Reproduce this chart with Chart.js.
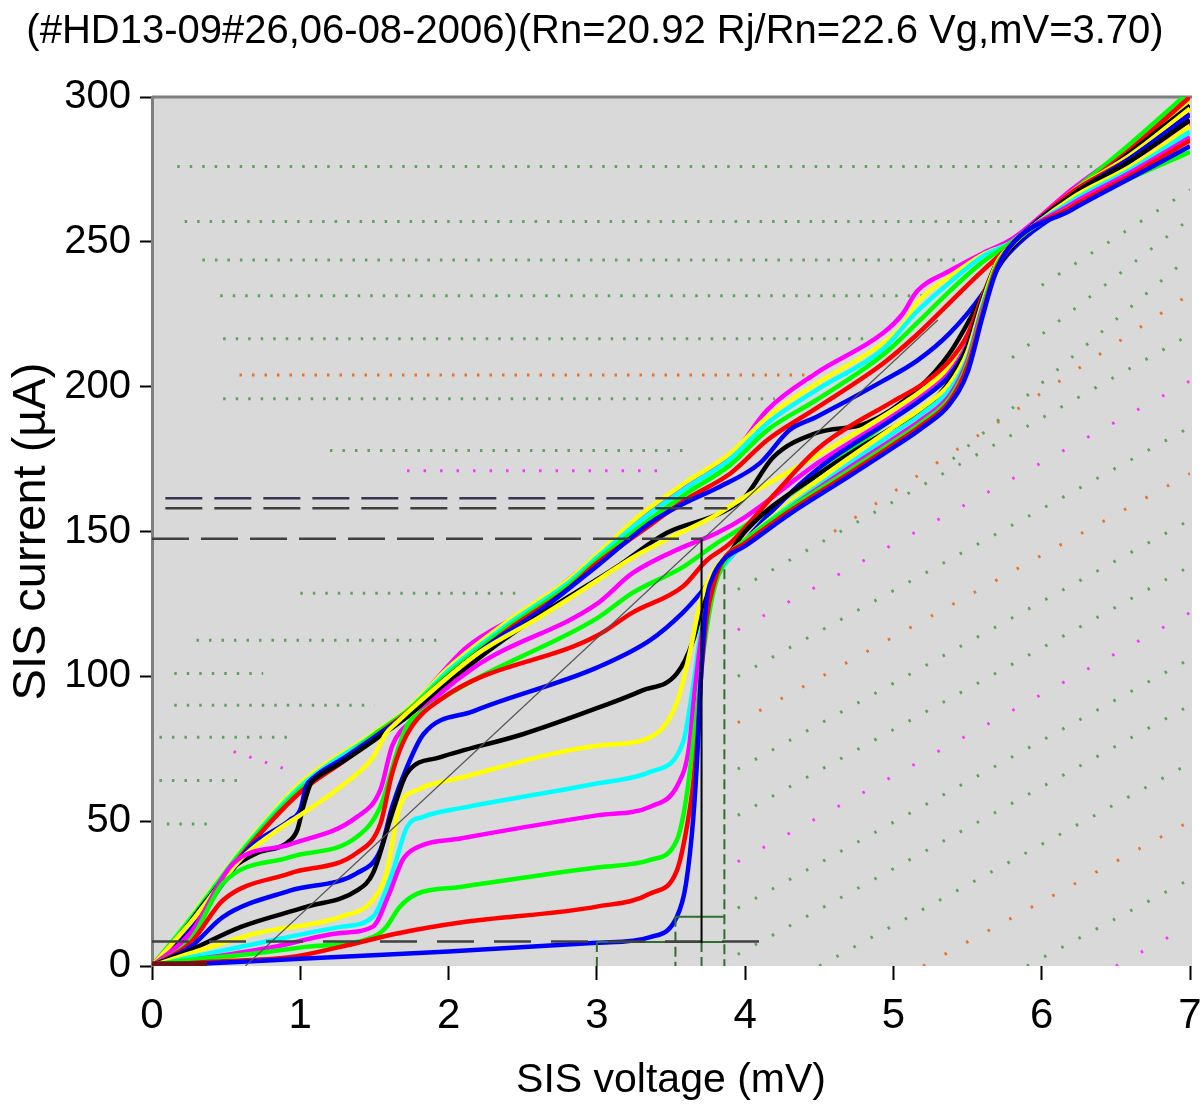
<!DOCTYPE html>
<html>
<head>
<meta charset="utf-8">
<script src="https://cdn.jsdelivr.net/npm/chart.js@4.4.1/dist/chart.umd.min.js"></script>
<style>
  html, body { margin: 0; padding: 0; background: #fff; }
  #wrap { width: 1204px; height: 1106px; }
</style>
</head>
<body>
<div id="wrap"><canvas id="ivChart" width="1204" height="1106"></canvas></div>
<script>
// axis ticks
const voltageTicks = [0, 1, 2, 3, 4, 5, 6, 7];
const currentTicks = [0, 50, 100, 150, 200, 250, 300];

// pumped I-V curves, [mV, uA], lowest LO power first
const iv01 = [[0,0],[0.5,1.2],[1,2.5],[2,5],[3,8],[3.36,10],[3.54,17],[3.6,28],[3.65,51],[3.68,75],[3.7,98],[3.74,126],[3.78,134],[3.85,140],[4,145],[4.3,156],[4.7,169],[5,179],[5.2,186],[5.38,194],[5.5,205],[5.6,224],[5.68,238],[5.78,248],[6.2,261],[6.6,272],[7,283]];
const iv02 = [[0,0],[0.37,1.4],[0.93,3],[1.27,6.6],[1.67,11.4],[2.08,15],[3,20.5],[3.36,25],[3.54,33],[3.6,46],[3.65,63],[3.68,80],[3.7,98],[3.74,120],[3.79,132],[3.85,140],[4,146],[4.3,157],[4.7,170],[5,180],[5.2,187],[5.38,195],[5.5,207],[5.6,225],[5.68,239],[5.78,248],[6.2,262],[6.6,273],[7,285]];
const iv03 = [[0,0],[0.14,1.4],[0.6,3.8],[1.04,6.6],[1.49,10],[1.58,13.5],[1.67,20.4],[1.79,25],[2.08,27.3],[3,34],[3.36,36.6],[3.54,43.5],[3.6,57],[3.67,86],[3.72,109],[3.79,130],[3.88,141],[4,147],[4.3,158],[4.7,171],[5,181],[5.2,188],[5.38,196],[5.5,208],[5.6,226],[5.68,240],[5.78,248],[6.2,262],[6.6,272],[7,281]];
const iv04 = [[0,0],[0.26,2],[0.82,6.6],[1.27,11.4],[1.49,13.6],[1.6,25],[1.69,36.6],[1.79,41],[2.08,44],[3,52],[3.36,55],[3.55,63],[3.62,75],[3.66,95],[3.7,112],[3.76,129],[3.85,139],[4,146],[4.3,158],[4.7,172],[5,182],[5.2,189],[5.38,197],[5.5,209],[5.6,227],[5.7,241],[5.8,249],[6.2,263],[6.6,274],[7,286]];
const iv05 = [[0,0],[0.26,3],[0.82,9],[1.27,13.5],[1.49,17],[1.62,32],[1.72,48],[1.83,51.5],[2.08,54.5],[3,63],[3.36,67],[3.58,77],[3.65,97],[3.7,115],[3.79,132],[3.9,141],[4.1,151],[4.5,166],[5,184],[5.2,191],[5.38,199],[5.5,210],[5.6,228],[5.7,242],[5.8,249],[6.2,264],[6.6,275],[7,288]];
const iv06 = [[0,0],[0.26,4.4],[0.71,11.4],[1.27,17],[1.49,22.8],[1.58,32],[1.67,55],[1.79,60.8],[2.08,65],[3,76],[3.36,79],[3.54,91],[3.63,109],[3.7,126],[3.81,138],[4,147],[4.5,168],[5,186],[5.2,193],[5.38,201],[5.5,212],[5.6,229],[5.7,243],[5.8,249],[6.2,265],[6.6,276],[7,290]];
const iv07 = [[0,0],[0.26,5.5],[0.6,13.5],[1.04,20.4],[1.38,26],[1.49,32],[1.62,52.8],[1.72,66.6],[1.94,72],[2.5,80],[3,89],[3.3,95],[3.54,101],[3.65,112.5],[3.7,122],[3.76,133],[3.85,139],[4,150],[4.5,170],[5,186],[5.2,192],[5.38,202],[5.5,214],[5.6,230],[5.7,243],[5.8,249],[6.2,266],[6.6,278],[7,292]];
const iv08 = [[0,0],[0.26,6.6],[0.48,17],[0.93,26],[1.38,32],[1.54,40],[1.62,55],[1.72,68.7],[1.83,80],[2.17,88],[3,103],[3.36,112.5],[3.58,122],[3.7,128.8],[3.78,134],[3.9,141],[4.2,158],[4.5,172],[5,189],[5.2,196],[5.38,204],[5.5,214],[5.6,229],[5.7,242],[5.8,249],[6.2,266],[6.6,279],[7,294]];
const iv09 = [[0,0],[0.26,8],[0.48,22.8],[0.93,32],[1.38,39],[1.54,49],[1.62,66.6],[1.72,80],[1.94,91.8],[3,114],[3.24,122],[3.58,131],[3.74,140],[3.9,146],[4.2,163],[4.5,179],[5,195],[5.2,201],[5.38,209],[5.5,218],[5.6,231],[5.7,243],[5.8,249],[6.2,267],[6.6,279],[7,294]];
const iv10 = [[0,0],[0.26,9],[0.48,28.6],[0.93,37.6],[1.38,44.5],[1.54,55],[1.65,73.5],[1.72,83],[1.83,88],[2.17,98.7],[3,120],[3.24,128.8],[3.58,137.7],[3.81,146],[4,152],[4.5,170],[5,189],[5.2,196],[5.38,204],[5.5,214],[5.6,229],[5.7,242],[5.8,249],[6.2,265],[6.6,276],[7,286]];
const iv11 = [[0,0],[0.26,11.4],[0.55,35.5],[0.93,42],[1.38,51.4],[1.54,60.8],[1.62,76],[1.76,85],[2.17,103],[3,125],[3.24,135.6],[3.58,144.6],[3.81,149.5],[4,155],[4.5,174],[5,190],[5.2,197],[5.38,205],[5.5,215],[5.6,230],[5.7,243],[5.8,249],[6.2,266],[6.6,278],[7,291]];
const iv12 = [[0,0],[0.26,15],[0.6,37],[0.82,46],[1.02,52.8],[1.27,61.8],[1.49,72],[1.58,80.4],[1.65,84],[1.8,91],[2.2,108],[2.6,120],[3,133],[3.24,141],[3.5,148],[3.78,155],[4,162],[4.48,176],[5,192],[5.2,199],[5.38,207],[5.5,217],[5.6,231],[5.7,243],[5.8,249],[6.2,267],[6.6,280],[7,296]];
const iv13 = [[0,0],[0.1,5],[0.37,22.8],[0.55,34],[0.71,39],[0.91,42.5],[0.98,47],[1.02,55],[1.07,63],[1.11,65],[1.27,70],[1.5,78],[1.72,86],[2,98],[2.3,110],[2.64,122],[3.14,138],[3.47,149.5],[3.85,156.7],[4,162],[4.19,175.7],[4.48,184],[4.82,187.4],[5.16,199],[5.38,211.6],[5.56,227.5],[5.7,241],[5.85,251],[6.2,265],[6.6,281],[7,297]];
const iv14 = [[0,0],[0.26,13.5],[0.5,30],[0.66,41],[0.93,50.4],[1,54],[1.04,62],[1.09,65],[1.3,72],[1.5,79],[1.72,87],[2,100],[2.3,112],[2.6,122],[3,138],[3.36,153],[3.6,160],[3.81,165],[4.1,173.6],[4.3,185],[4.48,189.5],[4.93,202],[5.16,209],[5.38,218.5],[5.6,232],[5.74,243.7],[5.9,252],[6.3,266],[6.7,282],[7,294]];
const iv15 = [[0,0],[0.26,15],[0.6,38],[1,60],[1.3,71],[1.5,79],[1.72,87.5],[2,100],[2.4,116],[2.8,130],[3,139],[3.3,150],[3.6,161],[3.9,170],[4.15,181.6],[4.48,192.6],[4.93,208],[5.16,218],[5.38,229],[5.6,240],[5.8,249],[6.2,266],[6.6,282],[7,300]];
const iv16 = [[0,0],[0.26,16],[0.6,39],[1,61],[1.3,72],[1.5,80],[1.72,88],[2,101],[2.4,117],[2.8,131],[3,140],[3.3,152],[3.6,163],[3.9,173],[4.15,185],[4.48,195.4],[4.93,211],[5.16,222],[5.38,233],[5.6,243],[5.8,250],[6.2,267],[6.6,284],[7,302]];
const iv17 = [[0,0],[0.26,16.5],[0.6,39.5],[1,62],[1.5,80],[1.72,88],[2,102],[2.4,118],[2.8,132],[3,141],[3.3,154],[3.6,165],[3.9,175],[4.15,187.4],[4.48,198.8],[4.93,213],[5.16,226],[5.38,236],[5.6,245],[5.8,250],[6.2,266],[6.6,280],[7,297]];
const iv18 = [[0,0],[0.26,17],[0.6,40],[1,63],[1.5,80.5],[1.72,88.5],[2,103],[2.4,119],[2.8,133],[3,142],[3.3,156],[3.6,167],[3.9,177],[4.15,189.5],[4.48,201],[4.93,215],[5.06,221],[5.16,229],[5.38,238],[5.6,245.5],[5.8,250],[6.2,267],[6.6,282],[7,299]];
const iv19 = [[0,0],[0.26,16.5],[0.6,39.5],[1,62.5],[1.5,80],[1.72,88],[2.12,110],[2.57,124],[2.8,133],[3.02,142.6],[3.24,153],[3.47,162],[3.7,170],[3.92,177],[4.15,192],[4.48,204.7],[4.93,218.5],[5.06,225],[5.16,233],[5.38,240],[5.6,246],[5.8,251],[6.2,268],[6.6,283],[7,300]];
const ivCurves = [iv01, iv02, iv03, iv04, iv05, iv06, iv07, iv08, iv09, iv10, iv11, iv12, iv13, iv14, iv15, iv16, iv17, iv18, iv19];
const ivColours = ['#0000ff', '#ff0000', '#00ff00', '#ff00ff', '#00ffff', '#ffff00', '#000000',
                   '#0000ff', '#ff0000', '#00ff00', '#ff00ff', '#ffff00', '#000000',
                   '#0000ff', '#ff0000', '#00ff00', '#00ffff', '#ffff00', '#ff00ff'];

// IF power traces drawn as dotted rows
const ifGreenRows = [
  [[0.17,276],[6.6,276]], [[0.22,257],[5.85,257]], [[0.34,243.7],[5.45,243.7]],
  [[0.46,231.4],[5.3,231.4]], [[0.48,216.5],[4.85,216.5]], [[0.48,195.8],[4.2,195.8]],
  [[1.2,178],[3.58,178]], [[1.0,128.7],[2.5,128.7]], [[0.3,112.5],[1.95,112.5]],
  [[0.15,101],[0.75,101]], [[0.15,90],[1.5,90]], [[0.05,79],[0.95,79]],
  [[0.05,64],[0.6,64]], [[0.1,49],[0.4,49]]
];
const ifOrangeRows = [[[0.59,204],[4.4,204]]];
const ifMagentaRows = [[[1.72,171],[3.45,171]], [[0.55,74],[0.9,68]]];
const ifGreenSlants = [
  [[3.95,4],[7,90]], [[3.95,20],[7,106]], [[3.95,52],[7,138]], [[3.95,68],[7,154]],
  [[3.95,100],[7,186]], [[3.95,130],[7,218]], [[5.4,175],[7,245]], [[5.8,210],[7,258]],
  [[6.0,235],[7,268]], [[4.5,0],[7,70]], [[5.9,0],[7,30]]
];
const ifOrangeSlants = [[[3.95,84],[7,170]], [[4.6,150],[7,232]], [[5.2,0],[7,50]]];
const ifMagentaSlants = [[[3.95,36],[7,122]], [[3.95,116],[7,202]], [[6.5,0],[7,14]]];

// reference marks
const refDashHigh = [[0.09,161.5],[3.93,161.5]];
const refDashMid = [[0.09,158],[3.88,158]];
const refDashLow = [[0,147.5],[3.706,147.5]];
const refGapLine = [[3.706,147.5],[3.706,8]];
const refBaseDash = [[0,8.5],[4.2,8.5]];
const rnLine = [[0.63,0],[5.3,223]];
const originStub = [[0,0.8],[0.37,0.8]];
const boxTop = [[3.53,17],[3.86,17]];
const boxBase = [[3.0,8.3],[3.86,8.3]];
const boxLeft = [[3.0,8.3],[3.0,0]];
const boxMid = [[3.53,17],[3.53,0]];
const boxGap = [[3.706,8.3],[3.706,0]];
const boxRight = [[3.86,137],[3.86,0]];

const FONT = "'Liberation Sans', Arial, sans-serif";
const pts = arr => arr.map(([x, y]) => ({ x, y }));

const dotted = (rows, colour, gap) => rows.map(r => ({
  data: pts(r), borderColor: colour, borderWidth: 3, borderDash: [2.5, gap], order: 30
}));

const datasets = [
  { data: pts(refDashHigh), borderColor: '#3a3550', borderWidth: 2.5, borderDash: [37, 12], order: 10 },
  { data: pts(refDashMid), borderColor: '#404040', borderWidth: 2.5, borderDash: [37, 12], order: 10 },
  { data: pts(refDashLow), borderColor: '#404040', borderWidth: 2.5, borderDash: [37, 12], order: 10 },
  { data: pts(refGapLine), borderColor: '#000000', borderWidth: 2, order: 10 },
  { data: pts(refBaseDash), borderColor: '#404040', borderWidth: 2.5, borderDash: [37, 20], order: 10 },
  { data: pts(rnLine), borderColor: '#555555', borderWidth: 1.2, order: 10 },
  { data: pts(originStub), borderColor: '#701010', borderWidth: 5, order: 10 },
  { data: pts(boxTop), borderColor: '#2f6f2f', borderWidth: 2, order: 10 },
  { data: pts(boxBase), borderColor: '#2f6f2f', borderWidth: 2, order: 10 },
  { data: pts(boxLeft), borderColor: '#2f6f2f', borderWidth: 2, borderDash: [10, 5], order: 10 },
  { data: pts(boxMid), borderColor: '#2f6f2f', borderWidth: 2, borderDash: [10, 5], order: 10 },
  { data: pts(boxGap), borderColor: '#2f6f2f', borderWidth: 2, borderDash: [10, 5], order: 10 },
  { data: pts(boxRight), borderColor: '#2f6f2f', borderWidth: 2, borderDash: [10, 5], order: 10 },
  ...ivCurves.map((c, i) => ({
    data: pts(c), borderColor: ivColours[i], borderWidth: 4.5,
    cubicInterpolationMode: 'monotone', order: 20
  })),
  ...dotted(ifGreenRows, '#5da35d', 10),
  ...dotted(ifGreenSlants, '#5da35d', 17),
  ...dotted(ifOrangeRows, '#e8742a', 10),
  ...dotted(ifOrangeSlants, '#e8742a', 22),
  ...dotted(ifMagentaRows, '#ff33ff', 14),
  ...dotted(ifMagentaSlants, '#ff33ff', 26)
];

const plotFrame = {
  id: 'plotFrame',
  beforeDraw(chart) {
    const { ctx, chartArea: a } = chart;
    ctx.save();
    ctx.fillStyle = '#d9d9d9';
    ctx.fillRect(a.left, a.top, a.right - a.left + 2, a.bottom - a.top);
    ctx.strokeStyle = '#7f7f7f';
    ctx.lineWidth = 3;
    ctx.beginPath();
    ctx.moveTo(a.left, a.top);
    ctx.lineTo(a.right + 2, a.top);
    ctx.stroke();
    ctx.restore();
  }
};

Chart.defaults.font.family = FONT;
Chart.defaults.color = '#000';

new Chart(document.getElementById('ivChart'), {
  type: 'line',
  data: { datasets },
  plugins: [plotFrame],
  options: {
    responsive: false,
    animation: false,
    clip: 0,
    layout: { padding: { left: 0, right: 14, top: 0, bottom: 0 } },
    elements: { point: { radius: 0 }, line: { fill: false } },
    plugins: {
      legend: { display: false },
      tooltip: { enabled: false },
      title: {
        display: true,
        text: '(#HD13-09#26,06-08-2006)(Rn=20.92 Rj/Rn=22.6 Vg,mV=3.70)',
        color: '#000',
        font: { size: 40, weight: 'normal', lineHeight: 1 },
        padding: { top: 12, bottom: 45 }
      }
    },
    scales: {
      x: {
        type: 'linear',
        min: voltageTicks[0],
        max: voltageTicks[voltageTicks.length - 1],
        ticks: { stepSize: 1, font: { size: 42 }, color: '#000', padding: 11, maxRotation: 0 },
        grid: { drawOnChartArea: false, drawTicks: true, tickLength: 14, tickColor: '#000', tickWidth: 2 },
        border: { display: false },
        title: { display: true, text: 'SIS voltage (mV)', color: '#000', font: { size: 41, lineHeight: 1 }, padding: { top: 0, bottom: 5 } },
        afterFit: s => { s.height = 140; s.paddingLeft = 0; s.paddingRight = 0; }
      },
      y: {
        type: 'linear',
        min: currentTicks[0],
        max: currentTicks[currentTicks.length - 1],
        ticks: { stepSize: currentTicks[1] - currentTicks[0], font: { size: 40 }, color: '#000', padding: 9 },
        grid: { drawOnChartArea: false, drawTicks: true, tickLength: 12, tickColor: '#000', tickWidth: 2 },
        border: { color: '#7f7f7f', width: 3 },
        title: { display: true, text: 'SIS current (µA)', color: '#000', font: { size: 47, lineHeight: 1 }, padding: { top: 9, bottom: 0 } },
        afterFit: s => { s.width = 152; }
      }
    }
  }
});
</script>
</body>
</html>
